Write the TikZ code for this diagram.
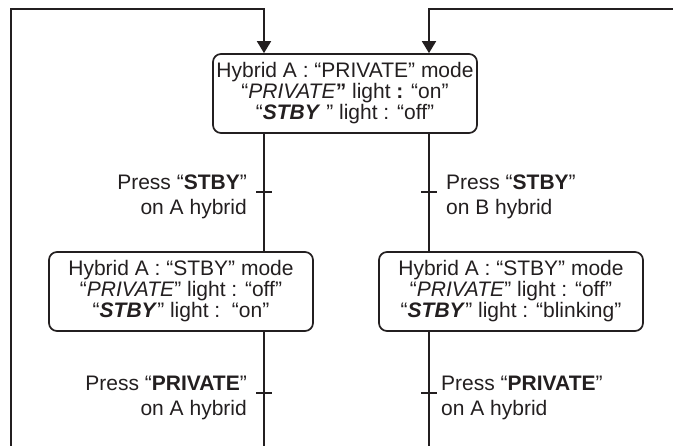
\documentclass[tikz,border=0pt]{standalone}
\usepackage{fontspec}
\setmainfont{Liberation Sans}
\usepackage{tikz}
\usetikzlibrary{positioning}
\usetikzlibrary{arrows.meta}
\definecolor{ink}{HTML}{231F20}
\tikzset{mode/.style={ % Rounded boxes for the modes
			draw,
			rounded corners=8pt,
			line width=1.7pt,
			minimum width=264pt,
			minimum height=79pt,
			inner sep=2pt,
			align=center,
			font=\fontsize{21}{21}\selectfont},
		cond/.style={inner sep=0pt, font=\fontsize{21}{24.5}\selectfont},
		flow/.style={draw, line width=1.7pt},
		into/.style={-{Triangle[width=14pt,length=12pt]}}}

\begin{document}
\begin{tikzpicture}[x=1pt,y=-1pt,color=ink]
			\useasboundingbox (0,0) rectangle (673,446);
			\node [mode] (P) at (345,93.5) {Hybrid A : “PRIVATE” mode\\ “\textit{PRIVATE}\textbf{”} light \textbf{:} “on”\\ “\textbf{\textit{STBY}} ” light : “off”};
			\node [mode] (SA) at (181,291.5) {Hybrid A : “STBY” mode\\ “\textit{PRIVATE}” light : “off”\\ “\textbf{\textit{STBY}}” light :\ \ “on”};
			\node [mode] (SB) at (511,291.5) {Hybrid A : “STBY” mode\\ “\textit{PRIVATE}” light : “off”\\ “\textbf{\textit{STBY}}” light : “blinking”};

			\coordinate (LO) at (11,9);
			\coordinate (LB) at (11,446);
			\coordinate (LT) at (264,9);
			\coordinate (RT) at (429,9);
			\coordinate (RO) at (673,9);
			\coordinate (AB) at (264,446);
			\coordinate (BB) at (429,446);
			\coordinate (t1) at (264,192);
			\coordinate (t2) at (429,192);
			\coordinate (t3) at (264,393);
			\coordinate (t4) at (429,393);

			\node [cond, left=17pt of t1, yshift=-5pt, align=right] (c1) {Press “\textbf{STBY}”\\ on A hybrid};
			\node [cond, right=17pt of t2, yshift=-5pt, align=left] (c2) {Press “\textbf{STBY}”\\ on B hybrid};
			\node [cond, left=17pt of t3, yshift=-5pt, align=right] (c3) {Press “\textbf{PRIVATE}”\\ on A hybrid};
			\node [cond, right=12pt of t4, yshift=-5pt, align=left] (c4) {Press “\textbf{PRIVATE}”\\ on A hybrid};

			\draw [flow, into] (LB) -- (LO) -- (LT) -- (LT |- P.north);
			\draw [flow, into] (RO) -- (RT) -- (RT |- P.north);
			\draw [flow] (LT |- P.south) -- (LT |- SA.north) (RT |- P.south) -- (RT |- SB.north);
			\draw [flow] (LT |- SA.south) -- (AB) (RT |- SB.south) -- (BB);
			\foreach \t in {t1,t2,t3,t4}
				\draw [flow] ([xshift=-8pt]\t) -- ([xshift=8pt]\t);
		\end{tikzpicture}
\end{document}
